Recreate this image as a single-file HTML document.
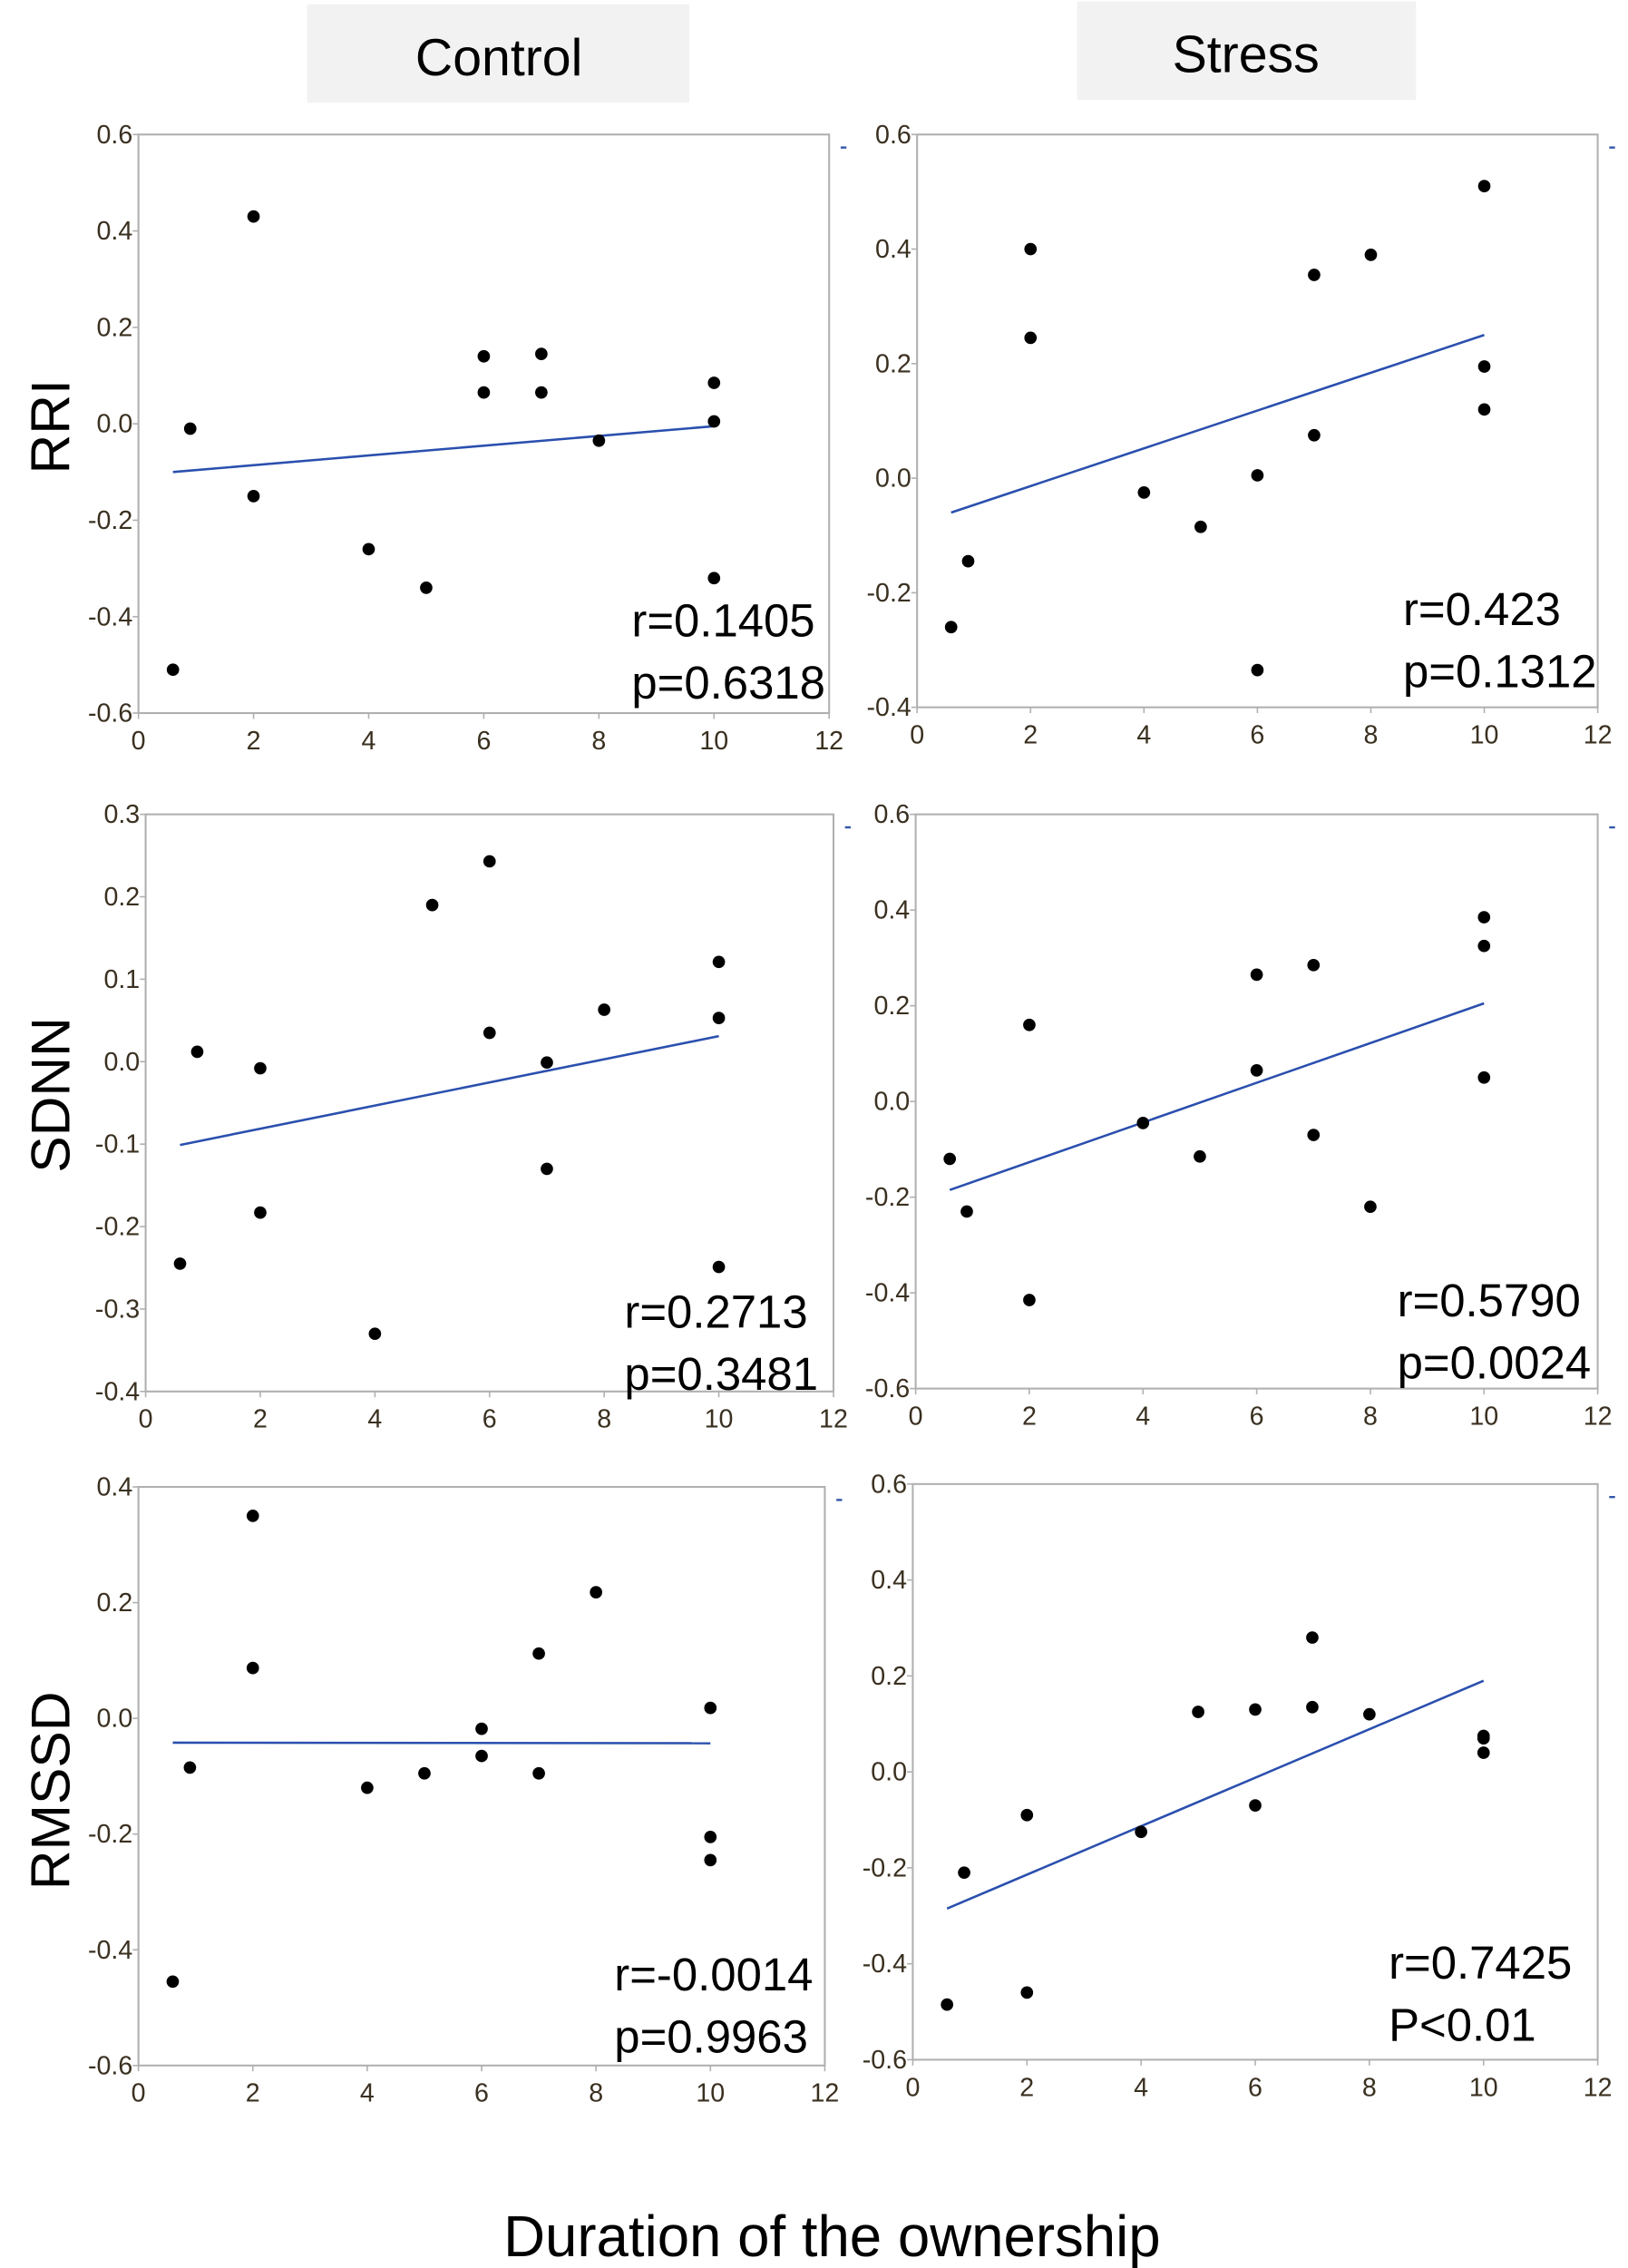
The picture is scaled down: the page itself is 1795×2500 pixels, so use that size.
<!DOCTYPE html>
<html><head><meta charset="utf-8"><title>Scatter panels</title>
<style>html,body{margin:0;padding:0;background:#fff}svg{display:block}text{font-family:"Liberation Sans","DejaVu Sans",sans-serif}</style>
</head><body>
<svg id="fig" width="1795" height="2500" viewBox="0 0 1129 1568" preserveAspectRatio="none" xmlns="http://www.w3.org/2000/svg">
<rect x="213" y="3" width="265" height="68" fill="#f2f2f2"/>
<text x="346" y="52" font-size="36" text-anchor="middle">Control</text>
<rect x="747" y="1" width="235" height="68" fill="#f2f2f2"/>
<text x="864" y="50" font-size="36" text-anchor="middle">Stress</text>
<text transform="translate(48,295) rotate(-90)" font-size="38" text-anchor="middle">RRI</text>
<text transform="translate(48,757) rotate(-90)" font-size="38" text-anchor="middle">SDNN</text>
<text transform="translate(48,1238) rotate(-90)" font-size="38" text-anchor="middle">RMSSD</text>
<text x="577" y="1560" font-size="40" text-anchor="middle">Duration of the ownership</text>
</svg>
<script>
const xTicks = [0, 2, 4, 6, 8, 10, 12];
const xs = [0.6, 0.9, 2, 2, 4, 5, 6, 6, 7, 7, 8, 10, 10, 10];
const rriControl = [-0.51, -0.01, 0.43, -0.15, -0.26, -0.34, 0.14, 0.065, 0.145, 0.065, -0.035, 0.085, 0.005, -0.32];
const rriStress = [-0.26, -0.145, 0.40, 0.245, -0.025, -0.085, 0.005, -0.335, 0.355, 0.075, 0.39, 0.51, 0.195, 0.12];
const sdnnControl = [-0.245, 0.012, -0.008, -0.183, -0.33, 0.19, 0.243, 0.035, -0.001, -0.13, 0.063, 0.121, 0.053, -0.249];
const sdnnStress = [-0.12, -0.23, 0.16, -0.415, -0.045, -0.115, 0.265, 0.065, 0.285, -0.07, -0.22, 0.385, 0.325, 0.05];
const rmssdControl = [-0.455, -0.085, 0.35, 0.087, -0.12, -0.095, -0.018, -0.065, 0.112, -0.095, 0.218, 0.018, -0.205, -0.245];
const rmssdStress = [-0.485, -0.21, -0.09, -0.46, -0.125, 0.125, 0.13, -0.07, 0.28, 0.135, 0.12, 0.075, 0.07, 0.04];
const fitX = [0.6, 10];
const fitRriControl = [-0.10, -0.005];
const fitRriStress = [-0.06, 0.25];
const fitSdnnControl = [-0.101, 0.031];
const fitSdnnStress = [-0.185, 0.205];
const fitRmssdControl = [-0.042, -0.043];
const fitRmssdStress = [-0.285, 0.19];
const ticksA = [-0.6, -0.4, -0.2, 0.0, 0.2, 0.4, 0.6];
const ticksB = [-0.4, -0.2, 0.0, 0.2, 0.4, 0.6];
const ticksC = [-0.4, -0.3, -0.2, -0.1, 0.0, 0.1, 0.2, 0.3];
const ticksD = [-0.6, -0.4, -0.2, 0.0, 0.2, 0.4];
const statsText = [["r=0.1405","p=0.6318"],["r=0.423","p=0.1312"],["r=0.2713","p=0.3481"],["r=0.5790","p=0.0024"],["r=-0.0014","p=0.9963"],["r=0.7425","P<0.01"]];

const NS = "http://www.w3.org/2000/svg";
const svg = document.getElementById('fig');
function mk(tag, attrs, parent) {
  const e = document.createElementNS(NS, tag);
  for (const k in attrs) e.setAttribute(k, attrs[k]);
  (parent || svg).appendChild(e);
  return e;
}
const panels = [
  {name:'rri-control', l:96, r:575, t:93, b:493, ticks:ticksA, ys:rriControl, fit:fitRriControl, st:statsText[0], sx:438, sy:440},
  {name:'rri-stress', l:636, r:1108, t:93, b:489, ticks:ticksB, ys:rriStress, fit:fitRriStress, st:statsText[1], sx:973, sy:432},
  {name:'sdnn-control', l:101, r:578, t:563, b:962, ticks:ticksC, ys:sdnnControl, fit:fitSdnnControl, st:statsText[2], sx:433, sy:918},
  {name:'sdnn-stress', l:635, r:1108, t:563, b:960, ticks:ticksA, ys:sdnnStress, fit:fitSdnnStress, st:statsText[3], sx:969, sy:910},
  {name:'rmssd-control', l:96, r:572, t:1028, b:1428, ticks:ticksD, ys:rmssdControl, fit:fitRmssdControl, st:statsText[4], sx:426, sy:1376},
  {name:'rmssd-stress', l:633, r:1108, t:1026, b:1424, ticks:ticksA, ys:rmssdStress, fit:fitRmssdStress, st:statsText[5], sx:963, sy:1368}
];
panels.forEach(p => {
  const g = mk('g', {});
  
  
  const ymin = p.ticks[0], ymax = p.ticks[p.ticks.length - 1];
  const X = v => p.l + (v - 0) / 12 * (p.r - p.l);
  const Y = v => p.b - (v - ymin) / (ymax - ymin) * (p.b - p.t);
  const box = mk('rect', {x:p.l, y:p.t, width:p.r - p.l, height:p.b - p.t, fill:'none', stroke:'#b0b0b0', 'stroke-width':1.3}, g);
  
  
  const dash = mk('line', {x1:p.r + 8, x2:p.r + 12, y1:p.t + 9, y2:p.t + 9, stroke:'#3355aa', 'stroke-width':1.5}, g);
  
  
  p.ticks.forEach(v => {
    mk('line', {x1:p.l - 4, x2:p.l, y1:Y(v), y2:Y(v), stroke:'#b0b0b0', 'stroke-width':1}, g);
    const t = mk('text', {x:p.l - 4, y:Y(v) + 6, 'font-size':18, 'text-anchor':'end', fill:'#3a3020'}, g);
    t.textContent = v.toFixed(1);
    
    
  });
  xTicks.forEach(v => {
    mk('line', {x1:X(v), x2:X(v), y1:p.b, y2:p.b + 4, stroke:'#b0b0b0', 'stroke-width':1}, g);
    const t = mk('text', {x:X(v), y:p.b + 25, 'font-size':18, 'text-anchor':'middle', fill:'#3a3020'}, g);
    t.textContent = v;
    
    
  });
  const ln = mk('line', {x1:X(fitX[0]), y1:Y(p.fit[0]), x2:X(fitX[1]), y2:Y(p.fit[1]), stroke:'#2a4fae', 'stroke-width':1.6}, g);
  
  
  xs.forEach((xv, i) => {
    const c = mk('ellipse', {cx:X(xv), cy:Y(p.ys[i]), rx:4.3, ry:4.3, fill:'#000'}, g);
    
    
  });
  p.st.forEach((s, i) => {
    const t = mk('text', {x:p.sx, y:p.sy + i * 43, 'font-size':32, fill:'#000'}, g);
    t.textContent = s;
    
    
  });
});
</script>
</body></html>
